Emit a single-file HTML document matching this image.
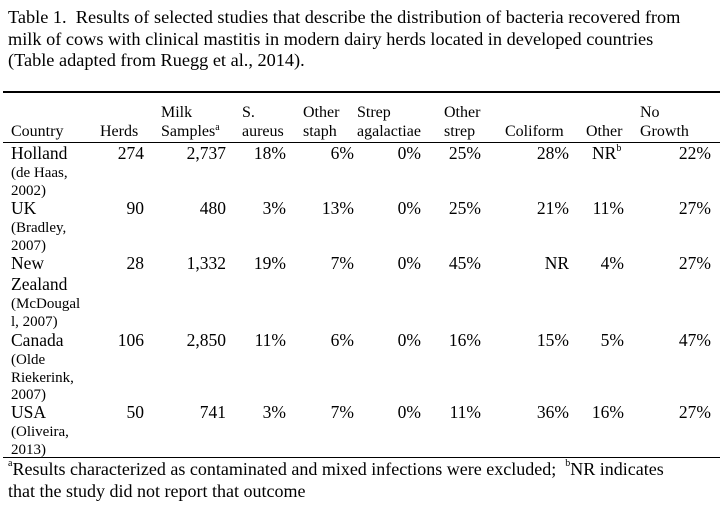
<!DOCTYPE html>
<html><head><meta charset="utf-8"><style>
body{margin:0;background:#fff;width:727px;height:508px;overflow:hidden;position:relative;font-family:"Liberation Serif",serif;color:#000}
.t{position:absolute;white-space:nowrap;line-height:20px;font-size:16px}
.r{text-align:right}
.rule{position:absolute;left:3px;width:717px;background:#000}
sup{font-size:10px;vertical-align:top;line-height:10px;position:relative;top:1px}
</style></head><body>
<div class="t" style="left:8px;top:7px;font-size:18.3px;line-height:21.5px">Table 1.&nbsp; Results of selected studies that describe the distribution of bacteria recovered from<br>milk of cows with clinical mastitis in modern dairy herds located in developed countries<br>(Table adapted from Ruegg et al., 2014).</div>
<div class="rule" style="top:91px;height:1.5px"></div>
<div class="rule" style="top:142px;height:1px"></div>
<div class="rule" style="top:457px;height:1px"></div>
<div id="hdr"></div><div id="body"></div>
<div class="t" style="left:8px;top:458px;font-size:18px;line-height:22px"><sup>a</sup>Results characterized as contaminated and mixed infections were excluded;&nbsp; <sup>b</sup>NR indicates<br>that the study did not report that outcome</div>
<script>
const headers=[["","Country"],["","Herds"],["Milk","Samples<sup>a</sup>"],["S.","aureus"],["Other","staph"],["Strep","agalactiae"],["Other","strep"],["","Coliform"],["","Other"],["No","Growth"]];
const headerX=[11,100,161,242,303,357,444,505,586,640];
const countries=[["Holland"],["UK"],["New","Zealand"],["Canada"],["USA"]];
const cites=[["(de Haas,","2002)"],["(Bradley,","2007)"],["(McDougal","l, 2007)"],["(Olde","Riekerink,","2007)"],["(Oliveira,","2013)"]];
const herds=["274","90","28","106","50"];
const samples=["2,737","480","1,332","2,850","741"];
const saureus=["18%","3%","19%","11%","3%"];
const otherStaph=["6%","13%","7%","6%","7%"];
const strepAg=["0%","0%","0%","0%","0%"];
const otherStrep=["25%","25%","45%","16%","11%"];
const coliform=["28%","21%","NR","15%","36%"];
const other=["NR<sup>b</sup>","11%","4%","5%","16%"];
const noGrowth=["22%","27%","27%","47%","27%"];
const rowTop=[143,198,253,330,402];
const colRight=[144,226,286,354,421,481,569,624,711];
function mk(parent,html,x,y,fs,right,name){
  const d=document.createElement('div');
  d.className='t'+(right?' r':'');
  
  
  d.style.fontSize=fs+'px';
  d.style.top=y+'px';
  if(right){d.style.right=(727-x)+'px';}else{d.style.left=x+'px';}
  d.innerHTML=html;parent.appendChild(d);return d;
}
const H=document.getElementById('hdr');
headers.forEach((h,i)=>{
  if(h[0])mk(H,h[0],headerX[i],103,16,false,'header-line1');
  mk(H,h[1],headerX[i],122,16,false,'column-header');
});
const B=document.getElementById('body');
const cols=[herds,samples,saureus,otherStaph,strepAg,otherStrep,coliform,other,noGrowth];
countries.forEach((c,r)=>{
  let y=rowTop[r];
  c.forEach((ln,k)=>{mk(B,ln,11,y+k*21,17.5,false,'country-name');});
  let cy=y+c.length*21-1;
  cites[r].forEach((ln,k)=>{mk(B,ln,11,cy+k*17.5,15,false,'citation');});
  cols.forEach((col,ci)=>{
    if(ci===7 && col[r].indexOf('NR')===0){mk(B,col[r],592,y,17.5,false,'cell-value');}
    else mk(B,col[r],colRight[ci],y,17.5,true,'cell-value');
  });
});
</script>
</body></html>
